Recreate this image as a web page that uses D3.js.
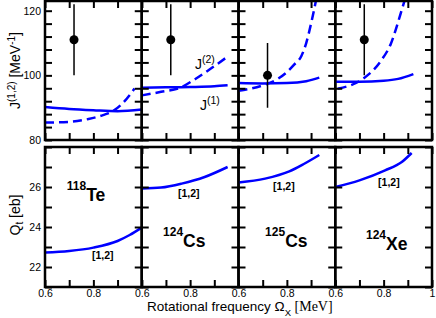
<!DOCTYPE html>
<html>
<head>
<meta charset="utf-8">
<script src="https://cdn.jsdelivr.net/npm/d3@7"></script>
<style>
  body { margin: 0; background: #fff; }
  svg { display: block; font-family: "Liberation Sans", Arial, sans-serif; }
  .tick text { font-size: 10.5px; fill: #000; }
  .tick line { stroke-width: 2px; }
</style>
</head>
<body>
<div id="chart"></div>
<script>
// nuclei in the four columns
const massNumbers = ["118", "124", "125", "124"];
const elements = ["Te", "Cs", "Cs", "Xe"];

// J(1) kinematic moment of inertia (solid)
const j1Omega = [
  [0.6, 0.7, 0.8, 0.9, 1.0],
  [0.6, 0.7, 0.8, 0.9, 0.955],
  [0.6, 0.7, 0.8, 0.88, 0.934],
  [0.6, 0.7, 0.8, 0.86, 0.923]
];
const j1Values = [
  [90.2, 89.6, 89.2, 88.9, 89.4],
  [96.2, 96.3, 96.4, 96.6, 96.9],
  [97.6, 97.5, 97.6, 98.2, 99.3],
  [98.0, 98.0, 98.3, 98.9, 100.4]
];

// J(2) dynamic moment of inertia (dashed)
const j2Omega = [
  [0.6, 0.7, 0.78, 0.84, 0.88, 0.92, 0.97],
  [0.6, 0.68, 0.76, 0.82, 0.88, 0.955],
  [0.6, 0.7, 0.76, 0.8, 0.83, 0.86, 0.88, 0.9, 0.92],
  [0.61, 0.716, 0.79, 0.83, 0.866, 0.886]
];
const j2Values = [
  [85.4, 85.6, 86.5, 87.7, 88.9, 91.3, 95.9],
  [93.8, 94.9, 96.2, 98.8, 101.8, 105.8],
  [95.2, 96.9, 98.8, 101.0, 103.3, 106.0, 110.0, 116.0, 123.0],
  [95.9, 99.0, 104.6, 109.8, 118.0, 123.0]
];

// experimental J with error bars
const expOmega = [0.72, 0.72, 0.72, 0.72];
const expJ = [111, 111, 100, 111];
const expErr = [11, 11, 10, 11];

// transition quadrupole moment Q_t
const qOmega = [
  [0.6, 0.7, 0.8, 0.9, 0.95, 1.0],
  [0.6, 0.68, 0.765, 0.86, 0.955],
  [0.6, 0.71, 0.81, 0.87, 0.934],
  [0.6, 0.7, 0.806, 0.875, 0.916]
];
const qValues = [
  [22.72, 22.8, 22.97, 23.3, 23.6, 23.97],
  [25.92, 25.97, 26.17, 26.5, 27.0],
  [26.23, 26.42, 26.78, 27.15, 27.6],
  [26.0, 26.33, 26.83, 27.25, 27.7]
];

const omegaTicks = [0.6, 0.7, 0.8, 0.9, 1.0];
const jTicks = [80, 84, 88, 92, 96, 100, 104, 108, 112, 116, 120];
const jLabels = [80, 100, 120];
const qTicks = [21, 22, 23, 24, 25, 26, 27, 28];
const qLabels = [22, 24, 26];

const width = 436, height = 318;
const left = 45, panelW = 96.75;
const blue = "#0000ff";

const svg = d3.select("#chart").append("svg")
  .attr("width", width)
  .attr("height", height);

const x = d3.scaleLinear().domain([0.6, 1.0]).range([0, panelW]);
const yJ = d3.scaleLinear().domain([80, 123]).range([140, 1]);
const yQ = d3.scaleLinear().domain([21, 28]).range([287, 147]);

const line = (xs, ys, yScale) => d3.line()
  .x(d => x(d[0]))
  .y(d => yScale(d[1]))
  .curve(d3.curveMonotoneX)(xs.map((v, k) => [v, ys[k]]));

// label anchors (data coords)
const nucleusAt = [[0.69, 25.31], [0.688, 22.98], [0.71, 23.0], [0.727, 22.85]];
const bracketAt = [[0.794, 22.4], [0.75, 25.48], [0.743, 25.83], [0.777, 26.03]];

// axis helper: drop the domain line and any empty tick label
const clean = a => a.call(s => {
  s.select(".domain").remove();
  s.selectAll(".tick text").filter(function () { return !this.textContent; }).remove();
});

for (let i = 0; i < 4; i++) {
  const g = svg.append("g").attr("transform", `translate(${left + i * panelW},0)`);

  // clip paths
  g.append("clipPath").attr("id", "clipJ" + i)
    .append("rect").attr("x", 0).attr("y", yJ.range()[1])
    .attr("width", panelW).attr("height", yJ.range()[0] - yJ.range()[1]);
  g.append("clipPath").attr("id", "clipQ" + i)
    .append("rect").attr("x", 0).attr("y", yQ.range()[1])
    .attr("width", panelW).attr("height", yQ.range()[0] - yQ.range()[1]);

  // --- top panel ---
  const top = g.append("g").attr("clip-path", `url(#clipJ${i})`);
  top.append("path")
    .attr("d", line(j1Omega[i], j1Values[i], yJ))
    .attr("fill", "none").attr("stroke", blue).attr("stroke-width", 2.5);
  top.append("path")
    .attr("d", line(j2Omega[i], j2Values[i], yJ))
    .attr("fill", "none").attr("stroke", blue).attr("stroke-width", 2.5)
    .attr("stroke-dasharray", "9,5");

  // experimental point
  top.append("line")
    .attr("x1", x(expOmega[i])).attr("x2", x(expOmega[i]))
    .attr("y1", yJ(expJ[i] - expErr[i])).attr("y2", yJ(expJ[i] + expErr[i]))
    .attr("stroke", "#000").attr("stroke-width", 1.5);
  top.append("circle")
    .attr("cx", x(expOmega[i])).attr("cy", yJ(expJ[i]))
    .attr("r", 4.5).attr("fill", "#000");

  // --- bottom panel ---
  const bot = g.append("g").attr("clip-path", `url(#clipQ${i})`);
  bot.append("path")
    .attr("d", line(qOmega[i], qValues[i], yQ))
    .attr("fill", "none").attr("stroke", blue).attr("stroke-width", 2.5);

  // axes (inward ticks)
  const noLabel = () => "";
  const xFmt = d => {
    if (d === 0.6 || d === 0.8) return d.toFixed(1);
    if (d === 1.0 && i === 3) return "1";
    return "";
  };

  clean(g.append("g").attr("transform", `translate(0,${yJ.range()[0]})`)
    .call(d3.axisBottom(x).tickValues(omegaTicks).tickSize(-7).tickFormat(noLabel)));
  clean(g.append("g").attr("transform", `translate(0,${yJ.range()[1]})`)
    .call(d3.axisTop(x).tickValues(omegaTicks).tickSize(-7).tickFormat(noLabel)));
  clean(g.append("g")
    .call(d3.axisLeft(yJ).tickValues(jTicks).tickSize(-7).tickPadding(4)
      .tickFormat(d => (i === 0 && jLabels.includes(d)) ? d : "")));
  clean(g.append("g").attr("transform", `translate(${panelW},0)`)
    .call(d3.axisRight(yJ).tickValues(jTicks).tickSize(-7).tickFormat(noLabel)));

  clean(g.append("g").attr("transform", `translate(0,${yQ.range()[0]})`)
    .call(d3.axisBottom(x).tickValues(omegaTicks).tickSize(-7).tickPadding(3).tickFormat(xFmt)));
  clean(g.append("g").attr("transform", `translate(0,${yQ.range()[1]})`)
    .call(d3.axisTop(x).tickValues(omegaTicks).tickSize(-7).tickFormat(noLabel)));
  clean(g.append("g")
    .call(d3.axisLeft(yQ).tickValues(qTicks).tickSize(-7).tickPadding(4)
      .tickFormat(d => (i === 0 && qLabels.includes(d)) ? d : "")));
  clean(g.append("g").attr("transform", `translate(${panelW},0)`)
    .call(d3.axisRight(yQ).tickValues(qTicks).tickSize(-7).tickFormat(noLabel)));

  // frames
  g.append("rect")
    .attr("x", 0).attr("y", yJ.range()[1])
    .attr("width", panelW).attr("height", yJ.range()[0] - yJ.range()[1])
    .attr("fill", "none").attr("stroke", "#000").attr("stroke-width", 2.5);
  g.append("rect")
    .attr("x", 0).attr("y", yQ.range()[1])
    .attr("width", panelW).attr("height", yQ.range()[0] - yQ.range()[1])
    .attr("fill", "none").attr("stroke", "#000").attr("stroke-width", 2.5);

  // nucleus label
  const nl = g.append("text")
    .attr("x", x(nucleusAt[i][0])).attr("y", yQ(nucleusAt[i][1]))
    .attr("font-weight", "bold");
  nl.append("tspan").attr("font-size", 12).attr("dy", -11).text(massNumbers[i]);
  nl.append("tspan").attr("font-size", 17.5).attr("dy", 11).text(elements[i]);

  g.append("text")
    .attr("x", x(bracketAt[i][0])).attr("y", yQ(bracketAt[i][1]))
    .attr("font-size", 10.5).attr("font-weight", "bold")
    .text("[1,2]");

  if (i === 1) {
    const t2 = g.append("text").attr("x", x(0.82)).attr("y", yJ(102.1)).attr("font-size", 14);
    t2.append("tspan").text("J");
    t2.append("tspan").attr("font-size", 10.5).attr("dy", -6).text("(2)");
    const t1 = g.append("text").attr("x", x(0.841)).attr("y", yJ(89.2)).attr("font-size", 14);
    t1.append("tspan").text("J");
    t1.append("tspan").attr("font-size", 10.5).attr("dy", -6).text("(1)");
  }
}

// axis titles
const yt = svg.append("text")
  .attr("transform", `translate(19.5,${yJ(101.5)}) rotate(-90)`)
  .attr("text-anchor", "middle").attr("font-size", 14);
yt.append("tspan").text("J");
yt.append("tspan").attr("font-size", 10).attr("dy", -5).text("(1,2)");
yt.append("tspan").attr("dy", 5).text(" [MeV");
yt.append("tspan").attr("font-size", 10).attr("dy", -5).text("-1");
yt.append("tspan").attr("dy", 5).text("]");

const qt = svg.append("text")
  .attr("transform", `translate(19.5,${yQ(24.6)}) rotate(-90)`)
  .attr("text-anchor", "middle").attr("font-size", 14);
qt.append("tspan").text("Q");
qt.append("tspan").attr("font-size", 10).attr("dy", 3).text("t");
qt.append("tspan").attr("dy", -3).text(" [eb]");

const xt = svg.append("text")
  .attr("x", 147).attr("y", 310.5)
  .attr("font-size", 13.5);
xt.append("tspan").text("Rotational frequency \u03A9");
xt.append("tspan").attr("font-size", 9.5).attr("dy", 5).text("X");
xt.append("tspan").attr("dy", -5).attr("font-family", "'Liberation Serif', 'Times New Roman', serif")
  .attr("font-size", 14).text(" [MeV]");
</script>
</body>
</html>
